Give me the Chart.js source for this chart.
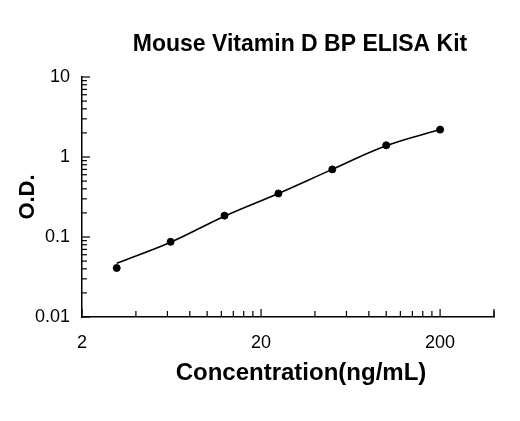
<!DOCTYPE html><html><head><script src="https://cdn.jsdelivr.net/npm/chart.js@4"></script>
<style>body{margin:0;background:#fff}</style></head><body>
<div style="width:520px;height:421px"><canvas id="c"></canvas></div>
<script>
const concentration=[3.125,6.25,12.5,25,50,100,200];
const od=[0.041,0.087,0.185,0.35,0.70,1.40,2.20];
const fitOd=[0.047,0.086,0.182,0.35,0.70,1.38,2.20];
const xTicks=[2,20,200];
const yTicks=[0.01,0.1,1,10];
const titleText='Mouse Vitamin D BP ELISA Kit';
const xTitle='Concentration(ng/mL)';
const yTitle='O.D.';
const deco={id:'deco',afterDraw(ch){const c=ch.ctx,x=ch.scales.x,y=ch.scales.y;c.save();c.strokeStyle='#000';c.lineWidth=1.2;
const minor=(lo,hi)=>{const a=[];for(let d=lo;d<hi;d*=10)for(let k=1;k<10;k++)a.push(d*k);return a;};
minor(2,400).forEach(v=>{if(v<2||v>400)return;const p=x.getPixelForValue(v);const L=[2,20,200].includes(v)?0:6;c.beginPath();c.moveTo(p,y.bottom);c.lineTo(p,y.bottom-L);c.stroke();});
[2,20,200,400].forEach(v=>{const p=x.getPixelForValue(v);c.beginPath();c.moveTo(p,y.bottom);c.lineTo(p,y.bottom-8);c.stroke();});
minor(0.01,10).concat([10]).forEach(v=>{const p=y.getPixelForValue(v);const L=yTicks.includes(v)?8:5;c.beginPath();c.moveTo(x.left,p);c.lineTo(x.left+L,p);c.stroke();});
c.fillStyle='#000';c.textAlign='center';c.textBaseline='middle';
c.font='bold 23px Arial, Liberation Sans';c.fillText(titleText,300,45);
c.font='bold 24px Arial, Liberation Sans';c.fillText(xTitle,301,373);
c.font='bold 22px Arial, Liberation Sans';c.translate(28,197);c.rotate(-Math.PI/2);c.fillText(yTitle,0,0);c.restore();}};
new Chart(document.getElementById('c'),{type:'line',
data:{datasets:[
{data:concentration.map((v,i)=>({x:v,y:fitOd[i]})),borderColor:'#000',borderWidth:1.6,pointRadius:0,tension:0.4,fill:false},
{data:concentration.map((v,i)=>({x:v,y:od[i]})),showLine:false,pointRadius:3.5,pointBackgroundColor:'#000',pointBorderColor:'#000'}]},
options:{responsive:true,maintainAspectRatio:false,animation:false,
layout:{padding:{top:77,right:26,left:0,bottom:0}},
plugins:{legend:{display:false},tooltip:{enabled:false}},
scales:{
x:{type:'logarithmic',min:2,max:400,afterBuildTicks:s=>{s.ticks=xTicks.map(v=>({value:v}));},afterFit:s=>{s.height=104;},
grid:{display:false,drawTicks:false},border:{display:true,color:'#000',width:1.5},
ticks:{padding:15,color:'#000',font:{size:18,family:'Arial, Liberation Sans'},callback:v=>String(v)}},
y:{type:'logarithmic',min:0.01,max:10,afterBuildTicks:s=>{s.ticks=yTicks.map(v=>({value:v}));},afterFit:s=>{s.width=82;},
grid:{display:false,drawTicks:false},border:{display:true,color:'#000',width:1.5},
ticks:{padding:12,color:'#000',font:{size:18,family:'Arial, Liberation Sans'},callback:v=>String(v)}}}},
plugins:[deco]});
</script></body></html>
